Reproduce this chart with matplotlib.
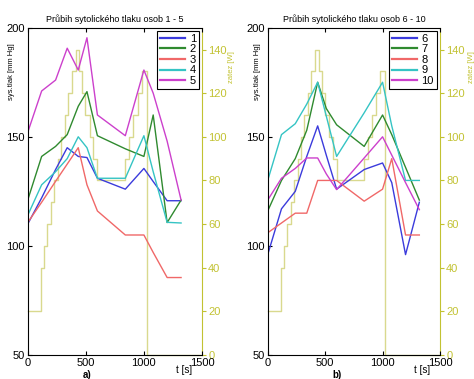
import matplotlib
matplotlib.use("Agg")
import matplotlib.pyplot as plt

plt.rcParams['font.family'] = ['Liberation Sans', 'DejaVu Sans']

# time points of the blood-pressure measurements [s]
t_bp = [0, 120, 240, 340, 435, 510, 600, 840, 1000, 1080, 1200, 1320]

# panel a) persons 1-5 : systolic pressure [mm Hg]
bp_1 = [110, 122, 135, 145, 141, 140.5, 131, 126, 135.5, 129.5, 120.7, 120.7]
bp_2 = [121, 141, 145.6, 151, 164, 170.7, 150.5, 144.5, 141, 160, 110.7, 121]
bp_3 = [110.7, 120, 129.6, 137.5, 145, 128, 116, 105, 105, 97, 85.5, 85.5]
bp_4 = [114, 128, 134, 140, 150, 145, 131, 131, 150.5, 134, 110.8, 110.5]
bp_5 = [152, 171, 176, 190.6, 180.6, 195.4, 160, 150.5, 180.6, 170, 148, 121]

# panel b) persons 6-10
bp_6 = [96, 117, 125, 141, 155, 141.6, 126, 135, 138, 129, 96, 120]
bp_7 = [116, 130, 140, 153, 175, 163, 155.5, 145.6, 160, 151, 136, 121]
bp_8 = [106, 110.5, 115, 115, 130, 130, 130, 120.5, 126, 140, 105, 105]
bp_9 = [130, 151, 156, 165, 175, 159.5, 141, 161, 175, 155, 130, 130]
bp_10 = [121, 131, 135.5, 140.3, 140.3, 133, 125.8, 140.3, 150, 141.6, 129, 116.6]

labels_a = ['1', '2', '3', '4', '5']
labels_b = ['6', '7', '8', '9', '10']

# load (zatez) staircase [W]
load_t = [0, 112, 140, 170, 200, 230, 260, 290, 320, 350, 380, 415, 445, 470,
          495, 535, 565, 600, 840, 875, 910, 945, 980, 1025, 1500]
load_w = [20, 40, 50, 60, 70, 80, 90, 100, 110, 120, 130, 140, 130, 120,
          110, 100, 90, 80, 90, 100, 110, 120, 130, 0, 0]

titles = ['Průbih sytolického tlaku osob 1 - 5', 'Průbih sytolického tlaku osob 6 - 10']
panel_tags = ['a)', 'b)']

colors = ['#3b3bdc', '#2f8a2f', '#f06868', '#35c4c4', '#cc40cc']
olive = '#c2c232'
load_color = '#d9d98e'

fig = plt.figure(figsize=(4.74, 3.79), dpi=100)
W, H = 474.0, 379.0
rects = [[27.7 / W, 1 - 355 / H, (202 - 27.7) / W, (355 - 27.7) / H],
         [267.7 / W, 1 - 355 / H, (440 - 267.7) / W, (355 - 27.7) / H]]

data = [[bp_1, bp_2, bp_3, bp_4, bp_5], [bp_6, bp_7, bp_8, bp_9, bp_10]]
labels = [labels_a, labels_b]
ylab_x = [-0.07, -0.04]
zlab_x = [1.15, 1.165]
tag_x = [0.34, 0.40]

for k in range(2):
    ax = fig.add_axes(rects[k])
    ax2 = ax.twinx()
    ax2.step(load_t, load_w, where='post', color=load_color, lw=1.0, clip_on=False)
    ax2.set_ylim(0, 150)
    ax2.set_yticks([0, 20, 40, 60, 80, 100, 120, 140])
    ax2.tick_params(axis='y', colors=olive, labelsize=8, direction='out', length=3, pad=1.5)
    ax2.spines['right'].set_color(olive)
    for s in ['left', 'top', 'bottom']:
        ax2.spines[s].set_visible(False)
    ax2.set_ylabel('zatez [W]', color=olive, fontsize=5.5)
    ax2.yaxis.set_label_coords(zlab_x[k], 0.88)

    ax.set_zorder(ax2.get_zorder() + 1)
    ax.patch.set_visible(False)
    for series, lab, c in zip(data[k], labels[k], colors):
        ax.plot(t_bp, series, color=c, lw=1.0, label=lab)
    ax.set_xlim(0, 1500)
    ax.set_ylim(50, 200)
    ax.set_xticks([0, 500, 1000, 1500])
    ax.set_yticks([50, 100, 150, 200])
    ax.tick_params(direction='in', length=3, labelsize=8, top=True, right=False, pad=2)
    ax.spines['right'].set_visible(False)
    ax.set_title(titles[k], fontsize=6.5, pad=4)
    ax.set_ylabel('sys.tlak [mm Hg]', fontsize=5.5)
    ax.yaxis.set_label_coords(ylab_x[k], 0.865)
    ax.text(0.895, -0.03, 't [s]', transform=ax.transAxes, fontsize=7, ha='center', va='top')
    ax.text(tag_x[k], -0.045, panel_tags[k], transform=ax.transAxes,
            fontsize=7, ha='center', va='top', fontweight='bold')
    leg = ax.legend(loc='upper right', fontsize=8, frameon=True, fancybox=False,
                    edgecolor='black', framealpha=1, labelspacing=0.05,
                    handlelength=2.3, handletextpad=0.4, borderpad=0.25,
                    borderaxespad=0.3)
    leg.get_frame().set_linewidth(0.8)
    for ln in leg.get_lines():
        ln.set_linewidth(1.6)

fig.savefig('out.png', dpi=100)
